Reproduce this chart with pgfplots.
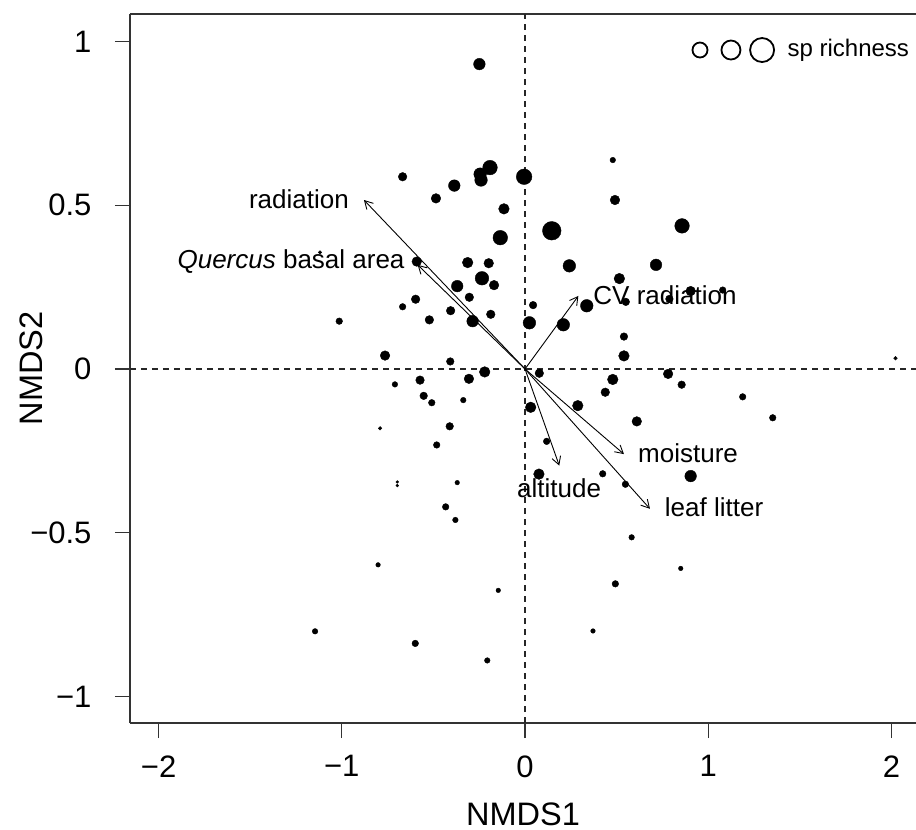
\documentclass[border=0pt]{standalone}
\usepackage{pgfplots}
\pgfplotsset{compat=1.18}
\usepackage{pgfplotstable}
\usetikzlibrary{arrows.meta}
\usepackage{fontspec}
\setmainfont{Liberation Sans}

% site scores: NMDS1, NMDS2, marker radius (species richness)
\pgfplotstableread{
x y r
-0.249 0.931 5.8
-0.668 0.587 4.3
-0.386 0.560 5.8
-0.486 0.521 4.8
-0.191 0.615 7.3
-0.245 0.595 6.3
-0.240 0.577 6.3
-0.005 0.587 7.8
-0.115 0.489 5.3
-0.135 0.401 7.3
-1.119 0.356 1.8
-0.591 0.328 4.8
-0.313 0.325 5.3
-0.198 0.323 4.8
-0.235 0.277 6.8
-0.169 0.256 4.8
-0.370 0.253 5.8
-0.304 0.219 4.3
-0.597 0.213 4.3
-0.668 0.190 3.3
-0.406 0.178 4.3
-0.187 0.167 4.3
-0.522 0.150 4.3
-0.286 0.146 5.8
-1.014 0.146 3.3
-0.764 0.041 4.8
-0.408 0.023 3.8
-0.220 -0.009 5.3
-0.306 -0.030 4.8
-0.573 -0.034 4.3
-0.710 -0.047 2.8
-0.553 -0.082 3.8
-0.509 -0.103 3.3
-0.337 -0.095 2.8
-0.791 -0.181 1.8
-0.411 -0.175 3.8
-0.482 -0.232 3.3
-0.697 -0.345 1.4
-0.697 -0.356 1.4
-0.370 -0.347 2.3
-0.433 -0.421 3.3
-0.380 -0.461 2.8
0.044 0.195 3.8
0.024 0.141 6.3
0.209 0.135 6.3
0.337 0.193 6.3
0.550 0.205 3.8
0.788 0.214 3.8
0.904 0.238 4.8
1.079 0.241 3.3
0.540 0.099 3.8
0.540 0.040 5.3
2.022 0.033 1.8
0.078 -0.013 4.3
0.479 -0.032 5.3
0.781 -0.015 4.8
0.855 -0.048 3.8
0.438 -0.071 4.3
0.031 -0.117 5.3
0.288 -0.112 5.3
1.188 -0.085 3.3
0.610 -0.160 4.8
1.352 -0.149 3.3
0.118 -0.221 3.3
0.076 -0.321 5.3
0.424 -0.320 3.3
0.548 -0.352 3.3
0.904 -0.327 5.8
0.582 -0.514 2.8
0.479 0.638 2.8
0.491 0.516 4.8
0.146 0.422 9.3
0.857 0.437 7.3
0.242 0.315 6.3
0.715 0.318 5.8
0.515 0.276 5.3
-0.802 -0.598 2.3
-1.146 -0.801 2.8
-0.599 -0.838 3.3
-0.206 -0.890 2.8
-0.146 -0.676 2.3
0.850 -0.609 2.3
0.493 -0.656 3.3
0.371 -0.800 2.3
}\sites

\begin{document}
\begin{tikzpicture}
\path[use as bounding box] (-130pt,-107pt) rectangle (786pt,723pt);
\begin{axis}[
  at={(0,0)},
  anchor=south west,
  scale only axis,
  width=786pt,
  height=709pt,
  xmin=-2.156,
  xmax=2.134,
  ymin=-1.081,
  ymax=1.084,
  axis x line*=box,
  axis y line*=left,
  axis line style={black!80,line width=1.3pt},
  tick style={black!80,line width=1.3pt},
  tick align=outside,
  major tick length=15pt,
  xtick pos=bottom,
  ytick pos=left,
  xtick={-2,-1,0,1,2},
  xticklabels={−2,−1,0,1,2},
  ytick={-1,-0.5,0,0.5,1},
  yticklabels={−1,−0.5,0,0.5,1},
  ticklabel style={font=\fontsize{31}{36}\selectfont},
  yticklabel style={anchor=east,xshift=-20pt},
  xticklabel style={yshift=-14pt},
  every axis x label/.style={at={(axis description cs:0.5,0)},anchor=base,inner sep=0pt,yshift=-102pt},
  every axis y label/.style={at={(axis description cs:-0.126,0.5)},rotate=90,anchor=center,inner sep=0pt},
  label style={font=\fontsize{32.5}{38}\selectfont},
  xlabel={NMDS1},
  ylabel={NMDS2},
]

% reference lines through the origin
\addplot[black!85,line width=1.1pt,dash pattern=on 6pt off 5pt] coordinates {(-2.156,0) (2.134,0)};
\addplot[black!85,line width=1.1pt,dash pattern=on 6pt off 5pt] coordinates {(0,-1.081) (0,1.084)};

% sites, marker size by richness
\addplot[scatter,only marks,mark=*,
  scatter/use mapped color={draw=black,fill=black},
  visualization depends on={\thisrow{r} \as \rad},
  scatter/@pre marker code/.append style={/tikz/mark size=\rad pt}]
  table[x=x,y=y] {\sites};

% fitted environmental vectors
\pgfplotsset{envarrow/.style={black,line width=0.9pt,-{Straight Barb[length=8pt,width=9pt]}}}
\addplot[envarrow] coordinates {(0,0) (-0.879,0.516)};
\addplot[envarrow] coordinates {(0,0) (-0.586,0.318)};
\addplot[envarrow] coordinates {(0,0) (0.291,0.223)};
\addplot[envarrow] coordinates {(0,0) (0.540,-0.260)};
\addplot[envarrow] coordinates {(0,0) (0.682,-0.427)};
\addplot[envarrow] coordinates {(0,0) (0.187,-0.295)};

\node[font=\fontsize{26}{30}\selectfont] at (axis cs:-1.234,0.519) {radiation};
\node[font=\fontsize{26}{30}\selectfont] at (axis cs:-1.277,0.327) {\textit{Quercus} basal area};
\node[font=\fontsize{26}{30}\selectfont] at (axis cs:0.764,0.226) {CV radiation};
\node[font=\fontsize{26}{30}\selectfont] at (axis cs:0.890,-0.256) {moisture};
\node[font=\fontsize{26}{30}\selectfont] at (axis cs:0.186,-0.363) {altitude};
\node[font=\fontsize{26}{30}\selectfont] at (axis cs:1.032,-0.421) {leaf litter};

% size key
\addplot[only marks,mark=o,mark size=7.5pt,mark options={black,line width=1.8pt}] coordinates {(0.955,0.974)};
\addplot[only marks,mark=o,mark size=9.5pt,mark options={black,line width=1.8pt}] coordinates {(1.124,0.974)};
\addplot[only marks,mark=o,mark size=12pt,mark options={black,line width=1.8pt}] coordinates {(1.294,0.974)};
\node[anchor=west,font=\fontsize{24}{28}\selectfont] at (axis cs:1.414,0.974) {sp richness};

\end{axis}
\end{tikzpicture}
\end{document}
